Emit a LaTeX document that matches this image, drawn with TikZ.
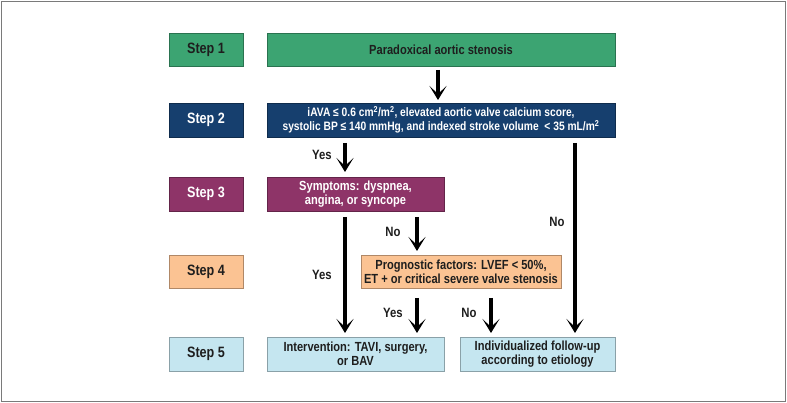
\documentclass[tikz,border=0pt]{standalone}
\usepackage{fontspec}
\setmainfont{Liberation Sans}[FakeStretch=0.84]
\usetikzlibrary{arrows.meta}
\definecolor{cgreen}{HTML}{3CA472}
\definecolor{cnavy}{HTML}{163F6E}
\definecolor{cpurple}{HTML}{8E3468}
\definecolor{cpeach}{HTML}{FBC393}
\definecolor{cblue}{HTML}{C5E6F0}
\definecolor{cframe}{HTML}{7A7A7A}
\definecolor{ctext}{HTML}{1E1E1E}
\tikzset{
  box/.style={draw=#1!70!black, line width=0.9pt, inner sep=0pt, outer sep=0pt},
  steplabel/.style={font=\fontsize{15}{17}\selectfont\bfseries},
  maintext/.style={font=\fontsize{13.2}{14}\selectfont\bfseries, align=center},
  smalltext/.style={font=\fontsize{12.2}{14}\selectfont\bfseries, align=center},
  arr/.style={line width=3.6pt, -{Stealth[length=14pt,width=17pt,inset=8pt]}},
  lbl/.style={font=\fontsize{13.5}{15}\selectfont\bfseries, text=ctext},
}
\begin{document}
\begin{tikzpicture}[x=1pt,y=-1pt]
\useasboundingbox (0,0) rectangle (787,403);
\draw[cframe, line width=1.2pt] (1.5,1.5) rectangle (785.5,401.5);
% left step labels
\node[box=cgreen, fill=cgreen, minimum width=74pt, minimum height=33pt, steplabel, text=ctext] (S1) at (206,49.5) {Step 1};
\node[box=cnavy, fill=cnavy, minimum width=74pt, minimum height=34pt, steplabel, text=white] (S2) at (206,120) {Step 2};
\node[box=cpurple, fill=cpurple, minimum width=74pt, minimum height=34pt, steplabel, text=white] (S3) at (206,194) {Step 3};
\node[box=cpeach, fill=cpeach, minimum width=74pt, minimum height=33pt, steplabel, text=ctext] (S4) at (206,271.5) {Step 4};
\node[box=cblue, fill=cblue, minimum width=74pt, minimum height=34pt, steplabel, text=ctext] (S5) at (206,354) {Step 5};
% main boxes
\node[box=cgreen, fill=cgreen, minimum width=348pt, minimum height=33pt, maintext, text=ctext] (B1) at (441,49.5) {Paradoxical aortic stenosis};
\node[box=cnavy, fill=cnavy, minimum width=348pt, minimum height=34pt, smalltext, text=white] (B2) at (441,120) {iAVA ≤ 0.6 cm\textsuperscript{2}/m\textsuperscript{2}, elevated aortic valve calcium score,\\systolic BP ≤ 140 mmHg, and indexed stroke volume \ < 35 mL/m\textsuperscript{2}};
\node[box=cpurple, fill=cpurple, minimum width=177pt, minimum height=34pt, maintext, text=white] (B3) at (355.5,194) {Symptoms: dyspnea,\\angina, or syncope};
\node[box=cpeach, fill=cpeach, minimum width=200pt, minimum height=33pt, maintext, text=ctext] (B4) at (461,271.5) {Prognostic factors: LVEF < 50\%,\\ET + or critical severe valve stenosis};
\node[box=cblue, fill=cblue, minimum width=177pt, minimum height=34pt, maintext, text=ctext] (B5a) at (355.5,354) {Intervention: TAVI, surgery,\\or BAV};
\node[box=cblue, fill=cblue, minimum width=155pt, minimum height=34pt, maintext, text=ctext] (B5b) at (537.5,354) {Individualized follow-up\\according to etiology};
% x positions of connectors
\coordinate (xA) at (438,0);
\coordinate (xB) at (345,0);
\coordinate (xC) at (575,0);
\coordinate (xD) at (417,0);
\coordinate (xE) at (491,0);
% connectors
\draw[arr, shorten <=4pt, shorten >=3pt] (B1.south -| xA) -- (B2.north -| xA);
\draw[arr, shorten <=6pt, shorten >=5pt] (B2.south -| xB) -- (B3.north -| xB);
\draw[arr, shorten <=6pt, shorten >=4pt] (B2.south -| xC) -- (B5b.north -| xC);
\draw[arr, shorten <=6pt, shorten >=4pt] (B3.south -| xB) -- (B5a.north -| xB);
\draw[arr, shorten <=6pt, shorten >=4pt] (B3.south -| xD) -- (B4.north -| xD);
\draw[arr, shorten <=10pt, shorten >=4pt] (B4.south -| xD) -- (B5a.north -| xD);
\draw[arr, shorten <=10pt, shorten >=4pt] (B4.south -| xE) -- (B5b.north -| xE);
% labels
\node[lbl] (l1) at (322,155) {Yes};
\node[lbl] (l2) at (557,222) {No};
\node[lbl] (l3) at (322,275) {Yes};
\node[lbl] (l4) at (393,232) {No};
\node[lbl] (l5) at (393,313) {Yes};
\node[lbl] (l6) at (469,313) {No};
\end{tikzpicture}
\end{document}
